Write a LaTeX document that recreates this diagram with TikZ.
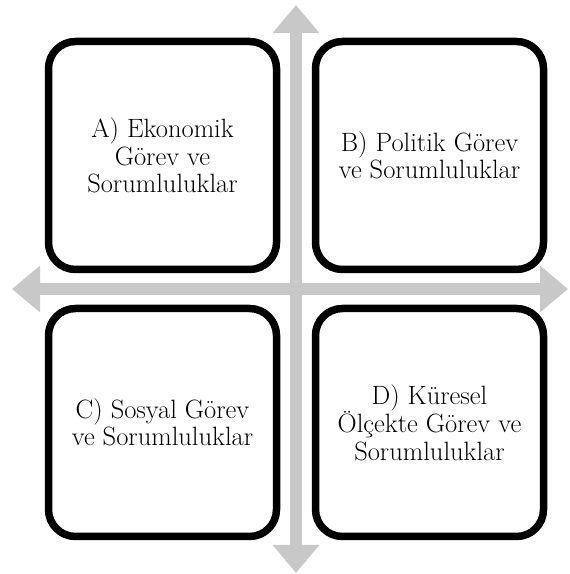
\documentclass[tikz,border=0pt]{standalone}
\usepackage{xcolor}
\usetikzlibrary{positioning}
\usetikzlibrary{arrows.meta}
\usetikzlibrary{shadows}
\definecolor{axisgray}{RGB}{200,200,200}
\tikzset{box/.style = {draw, fill=white, line width=7.5pt,
                       rounded corners=27pt, minimum size=228pt,
                       align=center,
                       font=\fontsize{26.5}{27.5}\selectfont,
                       drop shadow={opacity=0.3, shadow xshift=2pt,
                                    shadow yshift=-3pt}}}
\tikzset{axis/.style = {draw=axisgray, line width=12pt,
                        {Triangle[width=45pt,length=28pt]}-{Triangle[width=45pt,length=28pt]}}}

\begin{document}
\begin{tikzpicture}[x=1pt, y=1pt]
      \useasboundingbox (0,0) rectangle (570,574);
      \coordinate (top) at (296,569);
      \coordinate (bottom) at (296,1);
      \coordinate (left) at (12,285);
      \coordinate (right) at (568,285);
      \draw[axis] (bottom) -- (top);
      \draw[axis] (left) -- (right);
      \node[box] (eko) at (162.5,418.5) {A) Ekonomik\\ Görev ve\\ Sorumluluklar};
      \node[box] (pol) at (429.5,418.5) {B) Politik Görev\\ ve Sorumluluklar};
      \node[box] (sos) at (162.5,151.5) {C) Sosyal Görev\\ ve Sorumluluklar};
      \node[box] (kur) at (429.5,151.5) {D) Küresel\\ Ölçekte Görev ve\\ Sorumluluklar};
    \end{tikzpicture}
\end{document}
